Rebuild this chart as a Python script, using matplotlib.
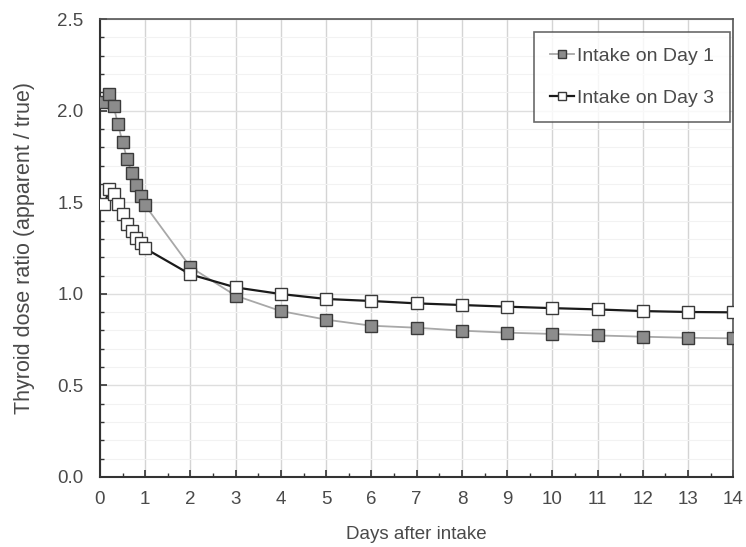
import matplotlib
matplotlib.use("Agg")
import matplotlib.pyplot as plt
from matplotlib.ticker import MultipleLocator

plt.rcParams['font.family'] = ['Liberation Sans', 'DejaVu Sans']

days = [0.1, 0.2, 0.3, 0.4, 0.5, 0.6, 0.7, 0.8, 0.9, 1.0,
        2, 3, 4, 5, 6, 7, 8, 9, 10, 11, 12, 13, 14]
day1 = [2.045, 2.09, 2.025, 1.925, 1.827, 1.737, 1.661, 1.592, 1.536, 1.483,
        1.146, 0.99, 0.906, 0.859, 0.826, 0.815, 0.799, 0.788, 0.781, 0.773, 0.766, 0.760, 0.757]
day3 = [1.488, 1.570, 1.545, 1.49, 1.434, 1.383, 1.341, 1.306, 1.276, 1.248,
        1.106, 1.035, 0.999, 0.972, 0.961, 0.948, 0.939, 0.930, 0.922, 0.915, 0.906, 0.901, 0.899]
labels = ["Intake on Day 1", "Intake on Day 3"]
x_ticks = list(range(0, 15))
y_ticks = [0.0, 0.5, 1.0, 1.5, 2.0, 2.5]

fig = plt.figure(figsize=(7.46, 5.47), dpi=100)
ax = fig.add_axes([0.134, 0.128, 0.849, 0.837])

txt = '#4a4a4a'
ax.plot(days, day1, '-', color='#a8a8a8', lw=1.3, marker='s', ms=8.5,
        mfc='#8c8c8c', mec='#3a3a3a', mew=1.0, label=labels[0], zorder=3)
ax.plot(days, day3, '-', color='#1a1a1a', lw=1.6, marker='s', ms=8.5,
        mfc='white', mec='#3a3a3a', mew=1.0, label=labels[1], zorder=4)

ax.set_xlim(0, 14)
ax.set_ylim(0, 2.5)
ax.set_xticks(x_ticks)
ax.set_yticks(y_ticks)
ax.set_yticklabels([f"{v:.1f}" for v in y_ticks])
ax.xaxis.set_minor_locator(MultipleLocator(0.5))
ax.yaxis.set_minor_locator(MultipleLocator(0.1))

ax.grid(True, which='major', axis='x', color='#d4d4d4', lw=1.0)
ax.grid(True, which='major', axis='y', color='#dedede', lw=1.0)
ax.grid(True, which='minor', axis='y', color='#f2f2f2', lw=0.8)
ax.set_axisbelow(True)

ax.tick_params(axis='both', which='major', direction='in', length=5, width=1.2,
               color='#333333', labelsize=13.5, labelcolor=txt)
ax.tick_params(axis='x', which='major', pad=10)
ax.tick_params(axis='y', which='major', pad=12)
ax.tick_params(axis='both', which='minor', direction='in', length=3, width=1.0,
               color='#333333')
ax.tick_params(axis='y', which='both', left=True, right=False)
ax.tick_params(axis='x', which='both', bottom=True, top=False)

for s in ['left', 'bottom']:
    ax.spines[s].set_color('#333333')
    ax.spines[s].set_linewidth(1.5)
for s in ['top', 'right']:
    ax.spines[s].set_color('#555555')
    ax.spines[s].set_linewidth(1.2)

ax.set_xlabel("Days after intake", fontsize=13.5, color=txt, labelpad=13)
ax.set_ylabel("Thyroid dose ratio (apparent / true)", fontsize=15.5, color=txt, labelpad=16)

leg = ax.legend(loc='upper right', bbox_to_anchor=(0.994, 0.973), fontsize=14,
                frameon=True, fancybox=False, handlelength=1.25, handletextpad=0.15,
                borderpad=0.8, borderaxespad=0, labelspacing=1.25, markerscale=0.7)
leg.get_frame().set_edgecolor('#444444')
leg.get_frame().set_linewidth(1.2)
for t in leg.get_texts():
    t.set_color(txt)

fig.savefig("out.png", dpi=100)
